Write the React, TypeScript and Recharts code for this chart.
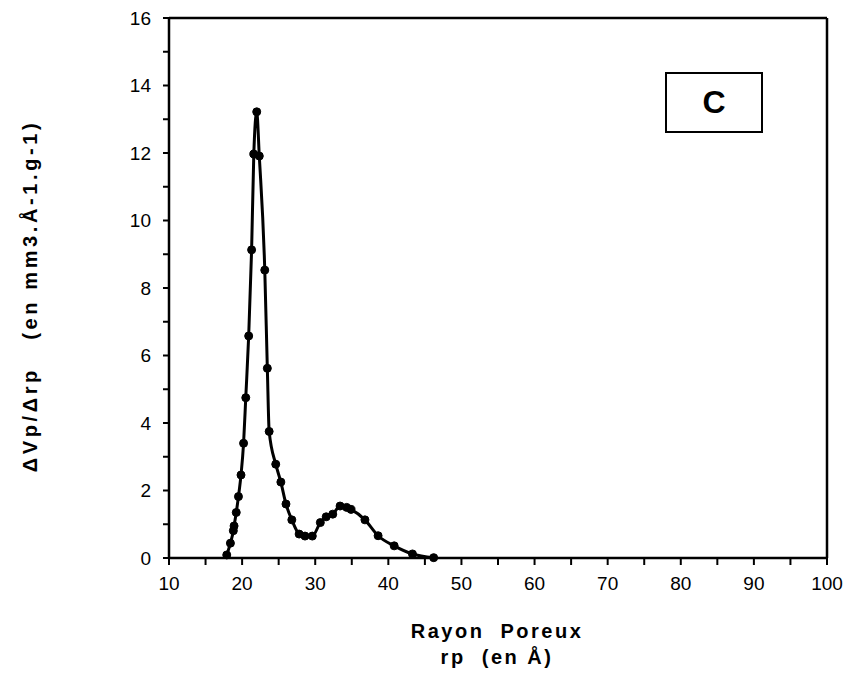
import React from 'react';
import { LineChart, Line, XAxis, YAxis, ReferenceLine } from 'recharts';

// pore radius (Å) and dVp/drp
const rp = [
  17.9, 18.4, 18.8, 18.9, 19.2, 19.5, 19.85, 20.2, 20.5, 20.9, 21.3, 21.6, 22.0, 22.35,
  23.1, 23.45, 23.7, 24.6, 25.3, 26.0, 26.8, 27.8, 28.6, 29.6, 30.7, 31.5, 32.4, 33.4,
  34.3, 34.9, 36.8, 38.6, 40.8, 43.3, 46.2,
];
const dvp = [
  0.09, 0.44, 0.81, 0.95, 1.35, 1.82, 2.46, 3.4, 4.75, 6.58, 9.13, 11.97, 13.22, 11.91,
  8.53, 5.62, 3.75, 2.78, 2.25, 1.6, 1.13, 0.71, 0.65, 0.65, 1.05, 1.22, 1.3, 1.54,
  1.5, 1.44, 1.13, 0.66, 0.36, 0.12, 0.01,
];

const xTicks = [10, 15, 20, 25, 30, 35, 40, 45, 50, 55, 60, 65, 70, 75, 80, 85, 90, 95, 100];
const yTicks = [0, 1, 2, 3, 4, 5, 6, 7, 8, 9, 10, 11, 12, 13, 14, 15, 16];

const xLabel = ['Rayon  Poreux', 'rp  (en Å)'];
const yLabel = 'ΔVp/Δrp   (en mm3.Å-1.g-1)';
const panel = 'C';

const data = rp.map((x, i) => ({ rp: x, v: dvp[i] }));

const font = '"Liberation Sans", Arial, Helvetica, sans-serif';
const tickStyle = { fill: '#000', fontSize: 19, fontFamily: font };

export default function App() {
  return (
    <div style={{ position: 'absolute', left: 0, top: 0, width: 853, height: 674, background: '#fff', fontFamily: font }}>
      <LineChart width={853} height={674} data={data} margin={{ top: 18, right: 26, bottom: 76, left: 0 }}>
        <XAxis
          dataKey="rp"
          type="number"
          domain={[10, 100]}
          ticks={xTicks}
          interval={0}
          tickFormatter={(v: number) => (v % 10 === 0 ? String(v) : '')}
          height={40}
          tickSize={7}
          tickMargin={12}
          tick={tickStyle}
          axisLine={{ stroke: '#000', strokeWidth: 2.5 }}
          tickLine={{ stroke: '#000', strokeWidth: 2 }}
        />
        <YAxis
          type="number"
          domain={[0, 16]}
          ticks={yTicks}
          interval={0}
          tickFormatter={(v: number) => (v % 2 === 0 ? String(v) : '')}
          width={169}
          tickSize={6}
          tickMargin={12}
          tick={tickStyle}
          axisLine={{ stroke: '#000', strokeWidth: 2.5 }}
          tickLine={{ stroke: '#000', strokeWidth: 2 }}
        />
        <ReferenceLine y={16} stroke="#000" strokeWidth={2.5} />
        <ReferenceLine x={100} stroke="#000" strokeWidth={2.5} />
        <Line
          dataKey="v"
          type="monotone"
          stroke="#000"
          strokeWidth={3}
          dot={{ r: 4, fill: '#000', stroke: '#000', strokeWidth: 1 }}
          isAnimationActive={false}
        />
      </LineChart>

      {/* panel letter box */}
      <div
        style={{
          position: 'absolute', left: 665, top: 72, width: 94, height: 57,
          border: '2px solid #000', display: 'flex', alignItems: 'center', justifyContent: 'center',
          fontSize: 32, fontWeight: 'bold',
        }}
      >
        {panel}
      </div>

      <svg width={853} height={674} style={{ position: 'absolute', left: 0, top: 0, pointerEvents: 'none' }}>
        <text x={497} y={638} textAnchor="middle" fontSize={20} fontWeight="bold" letterSpacing={2.5} style={{ whiteSpace: 'pre' }}>
          {xLabel[0]}
        </text>
        <text x={497} y={664} textAnchor="middle" fontSize={20} fontWeight="bold" letterSpacing={2.5} style={{ whiteSpace: 'pre' }}>
          {xLabel[1]}
        </text>
        <text
          x={0}
          y={0}
          transform="translate(37, 296) rotate(-90)"
          textAnchor="middle"
          fontSize={20}
          fontWeight="bold"
          letterSpacing={3.6}
          style={{ whiteSpace: 'pre' }}
        >
          {yLabel}
        </text>
      </svg>
    </div>
  );
}
